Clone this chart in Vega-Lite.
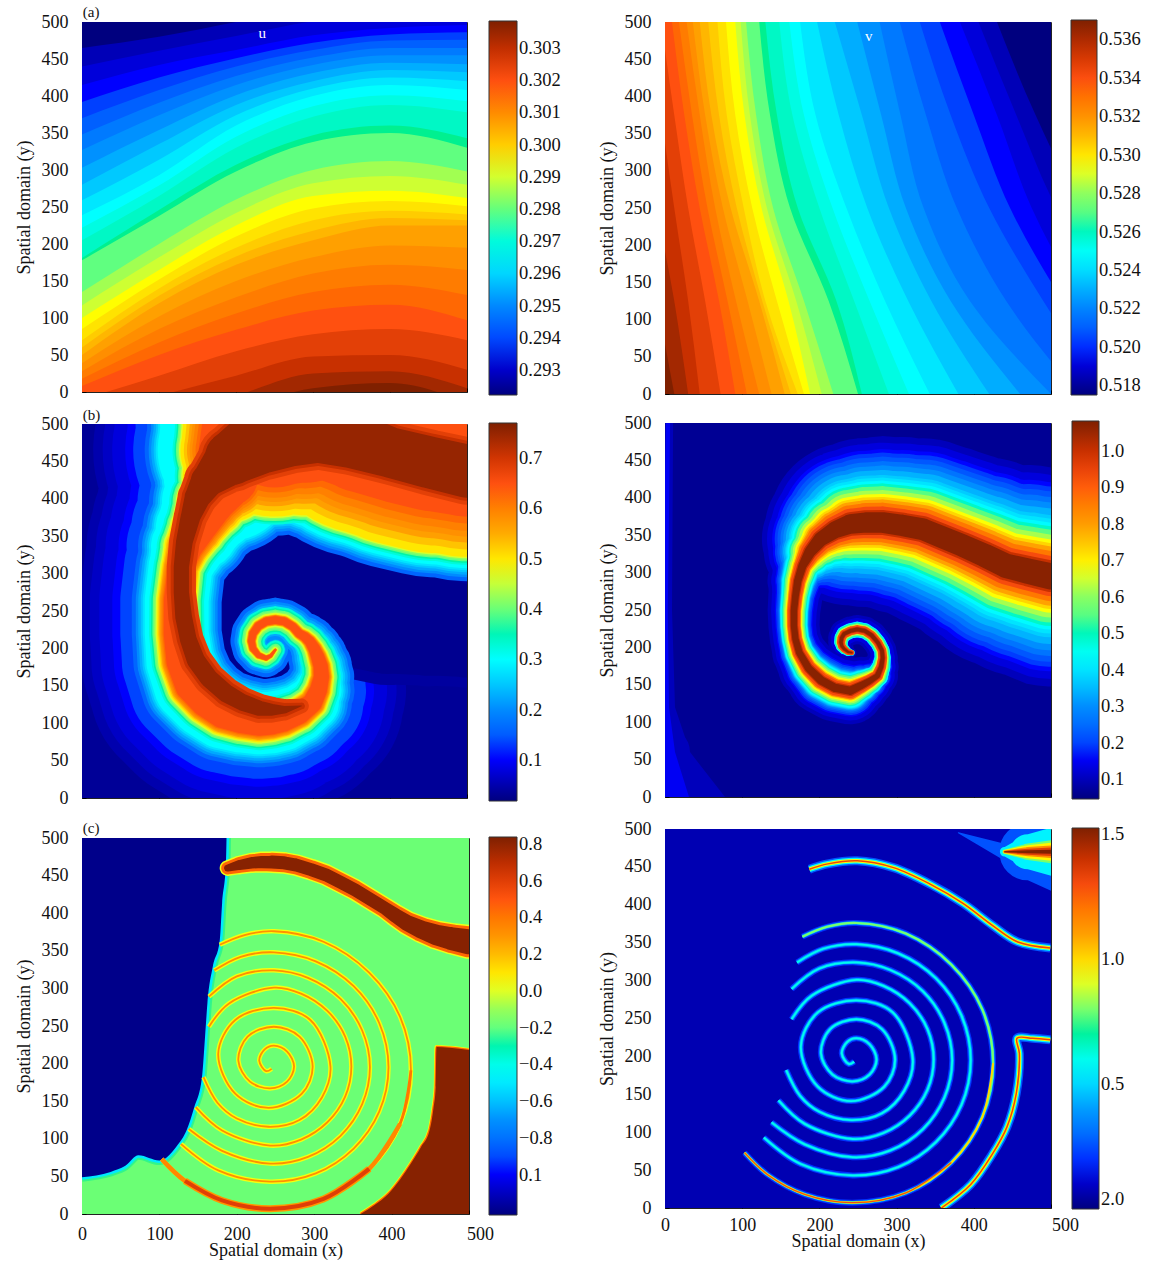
{"$schema":"https://vega.github.io/schema/vega-lite/v6.json","padding":{"left":14,"top":4,"right":0,"bottom":0},"background":"white",
"config":{"font":"Liberation Serif","view":{"stroke":"#222"},"axis":{"grid":false,"domain":false,"tickSize":-4,"tickColor":"#000","labelFontSize":18,"titleFontSize":18,"titleFontWeight":"normal","labelColor":"#111","titleColor":"#111","labelPadding":18,"zindex":1},"legend":{"labelFontSize":18.5,"labelColor":"#111","labelOffset":6,"gradientThickness":28,"gradientStrokeColor":"#333","gradientStrokeWidth":1,"labelOverlap":false,"orient":"none"}},
"datasets":{
"al":[{"v":0.2928,"x":0,"y":465},{"v":0.2928,"x":100,"y":480},{"v":0.2928,"x":200,"y":500},{"v":0.2928,"x":300,"y":520},{"v":0.2928,"x":400,"y":530},{"v":0.2928,"x":500,"y":530},
{"v":0.29315,"x":0,"y":440},{"v":0.29315,"x":100,"y":461},{"v":0.29315,"x":200,"y":481},{"v":0.29315,"x":300,"y":501},{"v":0.29315,"x":400,"y":511},{"v":0.29315,"x":500,"y":513},
{"v":0.2935,"x":0,"y":415},{"v":0.2935,"x":100,"y":442},{"v":0.2935,"x":200,"y":462},{"v":0.2935,"x":300,"y":482},{"v":0.2935,"x":400,"y":492},{"v":0.2935,"x":500,"y":496},
{"v":0.2939,"x":0,"y":392},{"v":0.2939,"x":100,"y":425},{"v":0.2939,"x":200,"y":451},{"v":0.2939,"x":300,"y":472},{"v":0.2939,"x":400,"y":483},{"v":0.2939,"x":500,"y":486},
{"v":0.29431,"x":0,"y":370},{"v":0.29431,"x":100,"y":408},{"v":0.29431,"x":200,"y":440},{"v":0.29431,"x":300,"y":462},{"v":0.29431,"x":400,"y":475},{"v":0.29431,"x":500,"y":476},
{"v":0.29472,"x":0,"y":348},{"v":0.29472,"x":100,"y":391},{"v":0.29472,"x":200,"y":427},{"v":0.29472,"x":300,"y":452},{"v":0.29472,"x":400,"y":465},{"v":0.29472,"x":500,"y":465},
{"v":0.29513,"x":0,"y":327},{"v":0.29513,"x":100,"y":374},{"v":0.29513,"x":200,"y":415},{"v":0.29513,"x":300,"y":442},{"v":0.29513,"x":400,"y":455},{"v":0.29513,"x":500,"y":455},
{"v":0.29547,"x":0,"y":303},{"v":0.29547,"x":100,"y":354},{"v":0.29547,"x":200,"y":401},{"v":0.29547,"x":300,"y":431},{"v":0.29547,"x":400,"y":445},{"v":0.29547,"x":500,"y":443},
{"v":0.29582,"x":0,"y":280},{"v":0.29582,"x":100,"y":335},{"v":0.29582,"x":200,"y":388},{"v":0.29582,"x":300,"y":420},{"v":0.29582,"x":400,"y":435},{"v":0.29582,"x":500,"y":432},
{"v":0.29623,"x":0,"y":259},{"v":0.29623,"x":100,"y":314},{"v":0.29623,"x":200,"y":374},{"v":0.29623,"x":300,"y":410},{"v":0.29623,"x":400,"y":425},{"v":0.29623,"x":500,"y":420},
{"v":0.29659,"x":0,"y":239},{"v":0.29659,"x":100,"y":293},{"v":0.29659,"x":200,"y":360},{"v":0.29659,"x":300,"y":400},{"v":0.29659,"x":400,"y":415},{"v":0.29659,"x":500,"y":408},
{"v":0.29693,"x":0,"y":222},{"v":0.29693,"x":100,"y":279},{"v":0.29693,"x":200,"y":345},{"v":0.29693,"x":300,"y":386},{"v":0.29693,"x":400,"y":401},{"v":0.29693,"x":500,"y":393},
{"v":0.29722,"x":0,"y":205},{"v":0.29722,"x":100,"y":265},{"v":0.29722,"x":200,"y":330},{"v":0.29722,"x":300,"y":372},{"v":0.29722,"x":400,"y":388},{"v":0.29722,"x":500,"y":378},
{"v":0.29768,"x":0,"y":181},{"v":0.29768,"x":100,"y":246},{"v":0.29768,"x":200,"y":307},{"v":0.29768,"x":300,"y":347},{"v":0.29768,"x":400,"y":360},{"v":0.29768,"x":500,"y":343},
{"v":0.29791,"x":0,"y":178},{"v":0.29791,"x":100,"y":238},{"v":0.29791,"x":200,"y":298},{"v":0.29791,"x":300,"y":338},{"v":0.29791,"x":400,"y":350},{"v":0.29791,"x":500,"y":330},
{"v":0.29861,"x":0,"y":135},{"v":0.29861,"x":100,"y":200},{"v":0.29861,"x":200,"y":260},{"v":0.29861,"x":300,"y":300},{"v":0.29861,"x":400,"y":312},{"v":0.29861,"x":500,"y":298},
{"v":0.29896,"x":0,"y":117},{"v":0.29896,"x":100,"y":182},{"v":0.29896,"x":200,"y":242},{"v":0.29896,"x":300,"y":282},{"v":0.29896,"x":400,"y":292},{"v":0.29896,"x":500,"y":280},
{"v":0.29936,"x":0,"y":100},{"v":0.29936,"x":100,"y":165},{"v":0.29936,"x":200,"y":225},{"v":0.29936,"x":300,"y":265},{"v":0.29936,"x":400,"y":272},{"v":0.29936,"x":500,"y":262},
{"v":0.29971,"x":0,"y":85},{"v":0.29971,"x":100,"y":152},{"v":0.29971,"x":200,"y":210},{"v":0.29971,"x":300,"y":248},{"v":0.29971,"x":400,"y":258},{"v":0.29971,"x":500,"y":251},
{"v":0.30001,"x":0,"y":70},{"v":0.30001,"x":100,"y":140},{"v":0.30001,"x":200,"y":195},{"v":0.30001,"x":300,"y":232},{"v":0.30001,"x":400,"y":245},{"v":0.30001,"x":500,"y":240},
{"v":0.3003,"x":0,"y":60},{"v":0.3003,"x":100,"y":130},{"v":0.3003,"x":200,"y":183},{"v":0.3003,"x":300,"y":218},{"v":0.3003,"x":400,"y":235},{"v":0.3003,"x":500,"y":232},
{"v":0.30059,"x":0,"y":50},{"v":0.30059,"x":100,"y":120},{"v":0.30059,"x":200,"y":172},{"v":0.30059,"x":300,"y":205},{"v":0.30059,"x":400,"y":225},{"v":0.30059,"x":500,"y":225},
{"v":0.30094,"x":0,"y":39},{"v":0.30094,"x":100,"y":102},{"v":0.30094,"x":200,"y":150},{"v":0.30094,"x":300,"y":182},{"v":0.30094,"x":400,"y":198},{"v":0.30094,"x":500,"y":195},
{"v":0.30128,"x":0,"y":28},{"v":0.30128,"x":100,"y":85},{"v":0.30128,"x":200,"y":128},{"v":0.30128,"x":300,"y":160},{"v":0.30128,"x":400,"y":172},{"v":0.30128,"x":500,"y":165},
{"v":0.30163,"x":0,"y":18},{"v":0.30163,"x":100,"y":67},{"v":0.30163,"x":200,"y":106},{"v":0.30163,"x":300,"y":135},{"v":0.30163,"x":400,"y":145},{"v":0.30163,"x":500,"y":131},
{"v":0.30198,"x":0,"y":8},{"v":0.30198,"x":100,"y":50},{"v":0.30198,"x":200,"y":84},{"v":0.30198,"x":300,"y":110},{"v":0.30198,"x":400,"y":118},{"v":0.30198,"x":500,"y":97},
{"v":0.30245,"x":0,"y":-10},{"v":0.30245,"x":100,"y":22},{"v":0.30245,"x":200,"y":55},{"v":0.30245,"x":300,"y":78},{"v":0.30245,"x":400,"y":85},{"v":0.30245,"x":500,"y":70},
{"v":0.30291,"x":0,"y":-30},{"v":0.30291,"x":100,"y":-5},{"v":0.30291,"x":200,"y":22},{"v":0.30291,"x":300,"y":48},{"v":0.30291,"x":400,"y":50},{"v":0.30291,"x":500,"y":30},
{"v":0.30338,"x":0,"y":-60},{"v":0.30338,"x":100,"y":-35},{"v":0.30338,"x":200,"y":-5},{"v":0.30338,"x":300,"y":25},{"v":0.30338,"x":400,"y":28},{"v":0.30338,"x":500,"y":5},
{"v":0.30384,"x":0,"y":-80},{"v":0.30384,"x":100,"y":-60},{"v":0.30384,"x":200,"y":-25},{"v":0.30384,"x":300,"y":5},{"v":0.30384,"x":400,"y":12},{"v":0.30384,"x":500,"y":-15}],
"ar":[{"v":0.51848,"y":500,"x":430},{"v":0.51848,"y":375,"x":480},{"v":0.51848,"y":250,"x":540},{"v":0.51848,"y":125,"x":620},{"v":0.51848,"y":0,"x":700},
{"v":0.51906,"y":500,"x":406},{"v":0.51906,"y":375,"x":455},{"v":0.51906,"y":250,"x":507},{"v":0.51906,"y":125,"x":580},{"v":0.51906,"y":0,"x":660},
{"v":0.51965,"y":500,"x":382},{"v":0.51965,"y":375,"x":430},{"v":0.51965,"y":250,"x":475},{"v":0.51965,"y":125,"x":540},{"v":0.51965,"y":0,"x":620},
{"v":0.52033,"y":500,"x":356},{"v":0.52033,"y":375,"x":400},{"v":0.52033,"y":250,"x":447},{"v":0.52033,"y":125,"x":515},{"v":0.52033,"y":0,"x":595},
{"v":0.52101,"y":500,"x":330},{"v":0.52101,"y":375,"x":370},{"v":0.52101,"y":250,"x":420},{"v":0.52101,"y":125,"x":490},{"v":0.52101,"y":0,"x":570},
{"v":0.52169,"y":500,"x":304},{"v":0.52169,"y":375,"x":338},{"v":0.52169,"y":250,"x":378},{"v":0.52169,"y":125,"x":442},{"v":0.52169,"y":0,"x":535},
{"v":0.52238,"y":500,"x":278},{"v":0.52238,"y":375,"x":305},{"v":0.52238,"y":250,"x":335},{"v":0.52238,"y":125,"x":395},{"v":0.52238,"y":0,"x":500},
{"v":0.52296,"y":500,"x":249},{"v":0.52296,"y":375,"x":280},{"v":0.52296,"y":250,"x":312},{"v":0.52296,"y":125,"x":370},{"v":0.52296,"y":0,"x":460},
{"v":0.52355,"y":500,"x":220},{"v":0.52355,"y":375,"x":255},{"v":0.52355,"y":250,"x":290},{"v":0.52355,"y":125,"x":345},{"v":0.52355,"y":0,"x":420},
{"v":0.52423,"y":500,"x":197},{"v":0.52423,"y":375,"x":225},{"v":0.52423,"y":250,"x":262},{"v":0.52423,"y":125,"x":315},{"v":0.52423,"y":0,"x":380},
{"v":0.52483,"y":500,"x":175},{"v":0.52483,"y":375,"x":195},{"v":0.52483,"y":250,"x":235},{"v":0.52483,"y":125,"x":285},{"v":0.52483,"y":0,"x":343},
{"v":0.5254,"y":500,"x":161},{"v":0.5254,"y":375,"x":180},{"v":0.5254,"y":250,"x":217},{"v":0.5254,"y":125,"x":265},{"v":0.5254,"y":0,"x":316},
{"v":0.52589,"y":500,"x":148},{"v":0.52589,"y":375,"x":165},{"v":0.52589,"y":250,"x":200},{"v":0.52589,"y":125,"x":245},{"v":0.52589,"y":0,"x":290},
{"v":0.52667,"y":500,"x":130},{"v":0.52667,"y":375,"x":145},{"v":0.52667,"y":250,"x":172},{"v":0.52667,"y":125,"x":222},{"v":0.52667,"y":0,"x":255},
{"v":0.52706,"y":500,"x":122},{"v":0.52706,"y":375,"x":136},{"v":0.52706,"y":250,"x":162},{"v":0.52706,"y":125,"x":212},{"v":0.52706,"y":0,"x":250},
{"v":0.52823,"y":500,"x":105},{"v":0.52823,"y":375,"x":118},{"v":0.52823,"y":250,"x":140},{"v":0.52823,"y":125,"x":180},{"v":0.52823,"y":0,"x":218},
{"v":0.52881,"y":500,"x":98},{"v":0.52881,"y":375,"x":110},{"v":0.52881,"y":250,"x":132},{"v":0.52881,"y":125,"x":170},{"v":0.52881,"y":0,"x":203},
{"v":0.52947,"y":500,"x":91},{"v":0.52947,"y":375,"x":103},{"v":0.52947,"y":250,"x":125},{"v":0.52947,"y":125,"x":160},{"v":0.52947,"y":0,"x":188},
{"v":0.53008,"y":500,"x":79},{"v":0.53008,"y":375,"x":91},{"v":0.53008,"y":250,"x":113},{"v":0.53008,"y":125,"x":145},{"v":0.53008,"y":0,"x":180},
{"v":0.53057,"y":500,"x":68},{"v":0.53057,"y":375,"x":80},{"v":0.53057,"y":250,"x":102},{"v":0.53057,"y":125,"x":130},{"v":0.53057,"y":0,"x":172},
{"v":0.53105,"y":500,"x":56},{"v":0.53105,"y":375,"x":70},{"v":0.53105,"y":250,"x":93},{"v":0.53105,"y":125,"x":126},{"v":0.53105,"y":0,"x":163},
{"v":0.53154,"y":500,"x":45},{"v":0.53154,"y":375,"x":60},{"v":0.53154,"y":250,"x":85},{"v":0.53154,"y":125,"x":122},{"v":0.53154,"y":0,"x":155},
{"v":0.53213,"y":500,"x":36},{"v":0.53213,"y":375,"x":52},{"v":0.53213,"y":250,"x":75},{"v":0.53213,"y":125,"x":107},{"v":0.53213,"y":0,"x":138},
{"v":0.53271,"y":500,"x":28},{"v":0.53271,"y":375,"x":45},{"v":0.53271,"y":250,"x":65},{"v":0.53271,"y":125,"x":92},{"v":0.53271,"y":0,"x":122},
{"v":0.5333,"y":500,"x":18},{"v":0.5333,"y":375,"x":35},{"v":0.5333,"y":250,"x":55},{"v":0.5333,"y":125,"x":81},{"v":0.5333,"y":0,"x":106},
{"v":0.53388,"y":500,"x":9},{"v":0.53388,"y":375,"x":25},{"v":0.53388,"y":250,"x":45},{"v":0.53388,"y":125,"x":70},{"v":0.53388,"y":0,"x":91},
{"v":0.53466,"y":500,"x":-5},{"v":0.53466,"y":375,"x":12},{"v":0.53466,"y":250,"x":30},{"v":0.53466,"y":125,"x":52},{"v":0.53466,"y":0,"x":72},
{"v":0.53544,"y":500,"x":-20},{"v":0.53544,"y":375,"x":-5},{"v":0.53544,"y":250,"x":12},{"v":0.53544,"y":125,"x":30},{"v":0.53544,"y":0,"x":45},
{"v":0.53622,"y":500,"x":-40},{"v":0.53622,"y":375,"x":-25},{"v":0.53622,"y":250,"x":-10},{"v":0.53622,"y":125,"x":12},{"v":0.53622,"y":0,"x":30},
{"v":0.537,"y":500,"x":-60},{"v":0.537,"y":375,"x":-45},{"v":0.537,"y":250,"x":-30},{"v":0.537,"y":125,"x":-10},{"v":0.537,"y":0,"x":12}],
"blm":[{"t":1,"x":251,"y":198,"w":10,"k":4},{"t":2,"x":245,"y":190,"w":14,"k":6},{"t":3,"x":239,"y":187,"w":16,"k":8},{"t":4,"x":229,"y":191,"w":18,"k":10},{"t":5,"x":222,"y":200,"w":20,"k":12},{"t":6,"x":220,"y":210,"w":21,"k":13},{"t":7,"x":222,"y":220,"w":22,"k":14},{"t":8,"x":229,"y":230,"w":23,"k":15},{"t":9,"x":239,"y":236,"w":24,"k":15},{"t":10,"x":251,"y":238,"w":24,"k":15},{"t":11,"x":263,"y":236,"w":24,"k":15},{"t":12,"x":274,"y":229,"w":25,"k":15},{"t":13,"x":282,"y":220,"w":26,"k":16},{"t":14,"x":290,"y":215,"w":30,"k":18},{"t":15,"x":296,"y":209,"w":34,"k":20},{"t":16,"x":302,"y":199,"w":39,"k":23},{"t":17,"x":306,"y":189,"w":44,"k":26},{"t":18,"x":310,"y":176,"w":48,"k":28},{"t":19,"x":311,"y":162,"w":52,"k":30},{"t":20,"x":307,"y":144,"w":61,"k":34},{"t":21,"x":299,"y":127,"w":70,"k":38},{"t":22,"x":282,"y":113,"w":75,"k":42},{"t":23,"x":261,"y":104,"w":80,"k":46},{"t":24,"x":246,"y":101,"w":81,"k":48},{"t":25,"x":230,"y":100,"w":82,"k":50},{"t":26,"x":206,"y":104,"w":85,"k":51},{"t":27,"x":182,"y":111,"w":88,"k":52},{"t":28,"x":159,"y":127,"w":90,"k":53},{"t":29,"x":139,"y":149,"w":92,"k":54},{"t":30,"x":127,"y":182,"w":88,"k":53},{"t":31,"x":123,"y":220,"w":84,"k":52},{"t":32,"x":123,"y":265,"w":84,"k":51},{"t":33,"x":128,"y":309,"w":84,"k":50},{"t":34,"x":137,"y":336,"w":96,"k":60},{"t":35,"x":150,"y":360,"w":110,"k":70},{"t":36,"x":168,"y":395,"w":130,"k":90},{"t":37,"x":190,"y":430,"w":170,"k":120},{"t":38,"x":197,"y":465,"w":200,"k":140},{"t":39,"x":205,"y":500,"w":210,"k":150},{"t":40,"x":227,"y":495,"w":225,"k":175},{"t":41,"x":250,"y":490,"w":240,"k":224},{"t":42,"x":290,"y":505,"w":270,"k":250},{"t":43,"x":330,"y":520,"w":320,"k":290},{"t":44,"x":375,"y":510,"w":340,"k":310},{"t":45,"x":420,"y":500,"w":350,"k":320},{"t":46,"x":460,"y":490,"w":350,"k":320},{"t":47,"x":500,"y":480,"w":340,"k":310}],
"blc":[{"t":1,"x":285,"y":123,"w":1},{"t":2,"x":263,"y":118,"w":10},{"t":3,"x":246,"y":118,"w":16},{"t":4,"x":230,"y":120,"w":20},{"t":5,"x":208,"y":128,"w":22},{"t":6,"x":187,"y":140,"w":24},{"t":7,"x":165,"y":160,"w":24},{"t":8,"x":148,"y":184,"w":24},{"t":9,"x":138,"y":212,"w":22},{"t":10,"x":132,"y":242,"w":22},{"t":11,"x":129,"y":275,"w":20},{"t":12,"x":129,"y":309,"w":20},{"t":13,"x":133,"y":343,"w":22},{"t":14,"x":141,"y":376,"w":26},{"t":15,"x":150,"y":402,"w":34},{"t":16,"x":163,"y":424,"w":44},{"t":17,"x":195,"y":455,"w":72},{"t":18,"x":235,"y":480,"w":90},{"t":19,"x":270,"y":488,"w":88},{"t":20,"x":306,"y":492,"w":86},{"t":21,"x":353,"y":478,"w":74},{"t":22,"x":400,"y":462,"w":66},{"t":23,"x":450,"y":449,"w":68},{"t":24,"x":500,"y":437,"w":70}],
"blg":[{"t":1,"x":246,"y":209,"w":12},{"t":2,"x":258,"y":208,"w":12},{"t":3,"x":267,"y":197,"w":12},{"t":4,"x":268,"y":182,"w":14},{"t":5,"x":258,"y":168,"w":16},{"t":6,"x":243,"y":160,"w":20},{"t":7,"x":226,"y":161,"w":22},{"t":8,"x":208,"y":170,"w":24},{"t":9,"x":196,"y":185,"w":24},{"t":10,"x":189,"y":203,"w":26},{"t":11,"x":187,"y":222,"w":30},{"t":12,"x":191,"y":243,"w":36},{"t":13,"x":201,"y":264,"w":44},{"t":14,"x":218,"y":288,"w":70},{"t":15,"x":239,"y":309,"w":90},{"t":16,"x":280,"y":290,"w":130},{"t":17,"x":325,"y":264,"w":150},{"t":18,"x":360,"y":250,"w":150},{"t":19,"x":397,"y":242,"w":150},{"t":20,"x":450,"y":232,"w":135},{"t":21,"x":500,"y":222,"w":120}],
"brm":[{"t":1,"x":242,"y":193,"w":8},{"t":2,"x":237,"y":194,"w":11},{"t":3,"x":232,"y":198,"w":14},{"t":4,"x":229,"y":202,"w":16},{"t":5,"x":228,"y":207,"w":18},{"t":6,"x":229,"y":213,"w":19},{"t":7,"x":232,"y":218,"w":20},{"t":8,"x":240,"y":222,"w":20},{"t":9,"x":249,"y":224,"w":20},{"t":10,"x":259,"y":222,"w":20},{"t":11,"x":268,"y":216,"w":20},{"t":12,"x":276,"y":206,"w":20},{"t":13,"x":281,"y":196,"w":20},{"t":14,"x":282,"y":186,"w":21},{"t":15,"x":280,"y":174,"w":24},{"t":16,"x":275,"y":162,"w":28},{"t":17,"x":265,"y":155,"w":33},{"t":18,"x":254,"y":149,"w":38},{"t":19,"x":240,"y":142,"w":44},{"t":20,"x":220,"y":146,"w":44},{"t":21,"x":202,"y":156,"w":44},{"t":22,"x":186,"y":172,"w":40},{"t":23,"x":174,"y":193,"w":36},{"t":24,"x":169,"y":211,"w":34},{"t":25,"x":167,"y":229,"w":34},{"t":26,"x":167,"y":249,"w":35},{"t":27,"x":169,"y":269,"w":36},{"t":28,"x":172,"y":289,"w":40},{"t":29,"x":178,"y":309,"w":44},{"t":30,"x":188,"y":328,"w":60},{"t":31,"x":202,"y":345,"w":76},{"t":32,"x":220,"y":357,"w":90},{"t":33,"x":240,"y":365,"w":104},{"t":34,"x":260,"y":367,"w":108},{"t":35,"x":282,"y":367,"w":110},{"t":36,"x":308,"y":363,"w":113},{"t":37,"x":334,"y":358,"w":116},{"t":38,"x":360,"y":347,"w":118},{"t":39,"x":386,"y":336,"w":120},{"t":40,"x":414,"y":323,"w":125},{"t":41,"x":442,"y":309,"w":130},{"t":42,"x":470,"y":302,"w":135},{"t":43,"x":500,"y":295,"w":140}],
"brc":[{"t":1,"x":0,"y":0,"w":120},{"t":2,"x":0,"y":60,"w":50},{"t":3,"x":0,"y":120,"w":20},{"t":4,"x":0,"y":250,"w":14},{"t":5,"x":4,"y":500,"w":10}],
"cb":[{"x":0,"y":49},{"x":37,"y":56},{"x":56,"y":64},{"x":73,"y":78},{"x":100,"y":71},{"x":123,"y":91},{"x":135,"y":111},{"x":145,"y":142},{"x":155,"y":182},{"x":159,"y":236},{"x":162,"y":280},{"x":169,"y":329},{"x":178,"y":364},{"x":181,"y":413},{"x":186,"y":467},{"x":187,"y":520}],
"cr":[{"x":360,"y":0},{"x":378,"y":12},{"x":396,"y":27},{"x":411,"y":46},{"x":425,"y":67},{"x":438,"y":89},{"x":449,"y":111},{"x":454,"y":140},{"x":457,"y":169},{"x":458,"y":222},{"x":475,"y":221},{"x":500,"y":218}],
"cs":[{"t":1,"x":188,"y":460,"w":14},{"t":2,"x":203,"y":464,"w":18},{"t":3,"x":219,"y":467,"w":20},{"t":4,"x":232,"y":468,"w":21},{"t":5,"x":245,"y":468,"w":22},{"t":6,"x":261,"y":467,"w":22},{"t":7,"x":277,"y":464,"w":22},{"t":8,"x":296,"y":458,"w":22},{"t":9,"x":315,"y":451,"w":22},{"t":10,"x":334,"y":441,"w":22},{"t":11,"x":353,"y":431,"w":22},{"t":12,"x":372,"y":419,"w":22},{"t":13,"x":391,"y":407,"w":22},{"t":14,"x":405,"y":397,"w":24},{"t":15,"x":420,"y":387,"w":26},{"t":16,"x":439,"y":378,"w":29},{"t":17,"x":458,"y":371,"w":32},{"t":18,"x":478,"y":366,"w":35},{"t":19,"x":499,"y":362,"w":38}],
"arms":[{"s":"A","t":1,"x":245,"y":193},{"s":"A","t":2,"x":238,"y":190},{"s":"A","t":3,"x":229,"y":204},{"s":"A","t":4,"x":236,"y":219},{"s":"A","t":5,"x":248,"y":224},{"s":"A","t":6,"x":265,"y":216},{"s":"A","t":7,"x":274,"y":196},{"s":"A","t":8,"x":265,"y":176},{"s":"A","t":9,"x":243,"y":167},{"s":"A","t":10,"x":217,"y":176},{"s":"A","t":11,"x":202,"y":204},{"s":"A","t":12,"x":214,"y":236},{"s":"A","t":13,"x":248,"y":249},{"s":"A","t":14,"x":281,"y":236},{"s":"A","t":15,"x":298,"y":196},{"s":"A","t":16,"x":284,"y":160},{"s":"A","t":17,"x":241,"y":141},{"s":"A","t":18,"x":198,"y":160},{"s":"A","t":19,"x":176,"y":213},{"s":"A","t":20,"x":198,"y":258},{"s":"A","t":21,"x":248,"y":274},{"s":"A","t":22,"x":295,"y":258},{"s":"A","t":23,"x":321,"y":196},{"s":"A","t":24,"x":310,"y":155},{"s":"A","t":25,"x":281,"y":125},{"s":"A","t":26,"x":241,"y":116},{"s":"A","t":27,"x":200,"y":127},{"s":"A","t":28,"x":175,"y":148},{"s":"A","t":29,"x":157,"y":182},
{"s":"B","t":1,"x":164,"y":249},{"s":"B","t":2,"x":190,"y":280},{"s":"B","t":3,"x":248,"y":301},{"s":"B","t":4,"x":283,"y":293},{"s":"B","t":5,"x":317,"y":270},{"s":"B","t":6,"x":340,"y":236},{"s":"B","t":7,"x":348,"y":196},{"s":"B","t":8,"x":340,"y":156},{"s":"B","t":9,"x":317,"y":122},{"s":"B","t":10,"x":283,"y":99},{"s":"B","t":11,"x":243,"y":91},{"s":"B","t":12,"x":181,"y":111},{"s":"B","t":13,"x":147,"y":142},
{"s":"C","t":1,"x":164,"y":289},{"s":"C","t":2,"x":200,"y":316},{"s":"C","t":3,"x":248,"y":324},{"s":"C","t":4,"x":292,"y":314},{"s":"C","t":5,"x":334,"y":286},{"s":"C","t":6,"x":362,"y":244},{"s":"C","t":7,"x":372,"y":195},{"s":"C","t":8,"x":362,"y":146},{"s":"C","t":9,"x":334,"y":104},{"s":"C","t":10,"x":292,"y":76},{"s":"C","t":11,"x":243,"y":67},{"s":"C","t":12,"x":181,"y":84},{"s":"C","t":13,"x":138,"y":113},
{"s":"D","t":1,"x":171,"y":324},{"s":"D","t":2,"x":205,"y":342},{"s":"D","t":3,"x":248,"y":348},{"s":"D","t":4,"x":302,"y":336},{"s":"D","t":5,"x":351,"y":303},{"s":"D","t":6,"x":384,"y":254},{"s":"D","t":7,"x":396,"y":195},{"s":"D","t":8,"x":384,"y":136},{"s":"D","t":9,"x":351,"y":87},{"s":"D","t":10,"x":302,"y":54},{"s":"D","t":11,"x":243,"y":43},{"s":"D","t":12,"x":176,"y":58},{"s":"D","t":13,"x":128,"y":93},
{"s":"E","t":1,"x":178,"y":358},{"s":"E","t":2,"x":210,"y":371},{"s":"E","t":3,"x":248,"y":376},{"s":"E","t":4,"x":312,"y":362},{"s":"E","t":5,"x":371,"y":321},{"s":"E","t":6,"x":411,"y":262},{"s":"E","t":7,"x":425,"y":191},{"s":"E","t":8,"x":411,"y":120},{"s":"E","t":9,"x":371,"y":60},{"s":"E","t":10,"x":312,"y":20},{"s":"E","t":11,"x":243,"y":7},{"s":"E","t":12,"x":181,"y":18},{"s":"E","t":13,"x":133,"y":44},{"s":"E","t":14,"x":103,"y":73}],
"crs":[{"s":"S","t":1,"x":187,"y":447},{"s":"S","t":2,"x":211,"y":454},{"s":"S","t":3,"x":249,"y":458},{"s":"S","t":4,"x":296,"y":449},{"s":"S","t":5,"x":344,"y":427},{"s":"S","t":6,"x":386,"y":402},{"s":"S","t":7,"x":424,"y":373},{"s":"S","t":8,"x":457,"y":351},{"s":"S","t":9,"x":499,"y":343},
{"s":"R","t":1,"x":358,"y":0},{"s":"R","t":2,"x":396,"y":31},{"s":"R","t":3,"x":424,"y":71},{"s":"R","t":4,"x":443,"y":107},{"s":"R","t":5,"x":455,"y":151},{"s":"R","t":6,"x":459,"y":204},{"s":"R","t":7,"x":456,"y":224},{"s":"R","t":8,"x":476,"y":224},{"s":"R","t":9,"x":499,"y":222}],
"blob":[{"t":1,"x":380,"y":495,"w":0},{"t":2,"x":440,"y":470,"w":6},{"t":3,"x":470,"y":470,"w":22},{"t":4,"x":500,"y":470,"w":30}]
},
"spacing":35,
"resolve":{"scale":{"color":"independent","size":"independent"},"legend":{"color":"independent"}},
"hconcat":[
{"spacing":12,"resolve":{"scale":{"color":"independent","size":"independent"},"legend":{"color":"independent"}},"vconcat":[
{"bounds":"flush","spacing":32,"resolve":{"scale":{"color":"independent","size":"independent"},"legend":{"color":"independent"}},"vconcat":[
{"width":385,"height":370,"encoding":{"x":{"field":"x","type":"quantitative","scale":{"domain":[0,500],"nice":false},"axis":{"labels":false,"title":null,"values":[0,100,200,300,400,500]}},"y":{"field":"y","type":"quantitative","scale":{"domain":[0,500],"nice":false},"axis":{"title":"Spatial domain (y)","values":[0,50,100,150,200,250,300,350,400,450,500],"titlePadding":8}}},
"layer":[
{"data":{"values":[{"x":0,"x2":500,"y":0,"y2":500,"v":0.29222}]},"mark":"rect","encoding":{"x2":{"field":"x2"},"y2":{"field":"y2"},"color":{"field":"v","type":"quantitative","scale":{"clamp":true,"domain":[0.29222,0.2935,0.29512,0.29659,0.29768,0.29791,0.29826,0.29935,0.30059,0.30198,0.30291,0.30384],"range":["#00007f","#0000ff","#0090ff","#00ffff","#00f090","#60ff80","#70ff70","#ffff00","#ffa000","#ff5010","#c83000","#7f2000"]},"legend":{"type":"gradient","title":null,"legendX":407,"legendY":-1,"gradientLength":374,"values":[0.293,0.294,0.295,0.296,0.297,0.298,0.299,0.3,0.301,0.302,0.303],"format":".3f"}}}},
{"data":{"name":"al"},"mark":{"type":"area","interpolate":"monotone","clip":true},"encoding":{"y2":{"datum":0},"detail":{"field":"v"},"color":{"field":"v","type":"quantitative"}}},
{"data":{"values":[{"x":234,"y":485,"s":"u"}]},"mark":{"type":"text","color":"#fff","fontSize":15},"encoding":{"text":{"field":"s"}}},
{"data":{"values":[{"x":1,"y":514,"s":"(a)"}]},"mark":{"type":"text","color":"#111","fontSize":15,"align":"left"},"encoding":{"text":{"field":"s"}}}
]},
{"width":385,"height":374,"encoding":{"x":{"field":"x","type":"quantitative","scale":{"domain":[0,500],"nice":false},"axis":{"labels":false,"title":null,"values":[0,100,200,300,400,500]}},"y":{"field":"y","type":"quantitative","scale":{"domain":[0,500],"nice":false},"axis":{"title":"Spatial domain (y)","values":[0,50,100,150,200,250,300,350,400,450,500],"titlePadding":8}},"order":{"field":"t"}},
"resolve":{"scale":{"size":"independent"},"legend":{"color":"independent"}},
"layer":[
{"data":{"values":[{"x":0,"x2":500,"y":0,"y2":500,"v":0.035}]},"mark":"rect","encoding":{"order":null,"x2":{"field":"x2"},"y2":{"field":"y2"},"color":{"field":"v","type":"quantitative","scale":{"clamp":true,"domain":[0.0185,0.1011,0.2063,0.3009,0.3715,0.3865,0.4091,0.4797,0.5593,0.6494,0.7095,0.7696],"range":["#00007f","#0000ff","#0090ff","#00ffff","#00f090","#60ff80","#70ff70","#ffff00","#ffa000","#ff5010","#c83000","#7f2000"]},"legend":{"type":"gradient","title":null,"legendX":407,"legendY":-1,"gradientLength":378,"values":[0.1,0.2,0.3,0.4,0.5,0.6,0.7],"format":".1f"}}}},
{"data":{"name":"blm"},"mark":{"type":"trail","clip":true},"encoding":{"color":{"datum":0.05,"type":"quantitative","legend":null},"size":{"field":"w","type":"quantitative","scale":{"domain":[0,400],"range":[129,433]},"legend":null}}},
{"data":{"name":"blm"},"mark":{"type":"trail","clip":true},"encoding":{"color":{"datum":0.065,"type":"quantitative","legend":null},"size":{"field":"w","type":"quantitative","scale":{"domain":[0,400],"range":[110,414]},"legend":null}}},
{"data":{"name":"blm"},"mark":{"type":"trail","clip":true},"encoding":{"color":{"datum":0.08,"type":"quantitative","legend":null},"size":{"field":"w","type":"quantitative","scale":{"domain":[0,400],"range":[91,395]},"legend":null}}},
{"data":{"name":"blm"},"mark":{"type":"trail","clip":true},"encoding":{"color":{"datum":0.1,"type":"quantitative","legend":null},"size":{"field":"w","type":"quantitative","scale":{"domain":[0,400],"range":[65,369]},"legend":null}}},
{"data":{"name":"blm"},"mark":{"type":"trail","clip":true},"encoding":{"color":{"datum":0.13,"type":"quantitative","legend":null},"size":{"field":"w","type":"quantitative","scale":{"domain":[0,400],"range":[49,353]},"legend":null}}},
{"data":{"name":"blg"},"mark":{"type":"trail","clip":true},"encoding":{"color":{"datum":0.04,"type":"quantitative","legend":null},"size":{"field":"w","type":"quantitative","scale":{"domain":[0,400],"range":[14,340]},"legend":null}}},
{"data":{"name":"blg"},"mark":{"type":"trail","clip":true},"encoding":{"color":{"datum":0.03,"type":"quantitative","legend":null},"size":{"field":"w","type":"quantitative","scale":{"domain":[0,400],"range":[0,304]},"legend":null}}},
{"data":{"name":"blm"},"mark":{"type":"trail","clip":true},"encoding":{"color":{"datum":0.16,"type":"quantitative","legend":null},"size":{"field":"w","type":"quantitative","scale":{"domain":[0,400],"range":[26,330]},"legend":null}}},
{"data":{"name":"blm"},"mark":{"type":"trail","clip":true},"encoding":{"color":{"datum":0.2,"type":"quantitative","legend":null},"size":{"field":"w","type":"quantitative","scale":{"domain":[0,400],"range":[18,322]},"legend":null}}},
{"data":{"name":"blm"},"mark":{"type":"trail","clip":true},"encoding":{"color":{"datum":0.225,"type":"quantitative","legend":null},"size":{"field":"w","type":"quantitative","scale":{"domain":[0,400],"range":[13,317]},"legend":null}}},
{"data":{"name":"blm"},"mark":{"type":"trail","clip":true},"encoding":{"color":{"datum":0.25,"type":"quantitative","legend":null},"size":{"field":"w","type":"quantitative","scale":{"domain":[0,400],"range":[8,312]},"legend":null}}},
{"data":{"name":"blm"},"mark":{"type":"trail","clip":true},"encoding":{"color":{"datum":0.275,"type":"quantitative","legend":null},"size":{"field":"w","type":"quantitative","scale":{"domain":[0,400],"range":[4,308]},"legend":null}}},
{"data":{"name":"blm"},"mark":{"type":"trail","clip":true},"encoding":{"color":{"datum":0.3,"type":"quantitative","legend":null},"size":{"field":"w","type":"quantitative","scale":{"domain":[0,400],"range":[0,304]},"legend":null}}},
{"data":{"name":"blm"},"mark":{"type":"trail","clip":true},"encoding":{"color":{"datum":0.33,"type":"quantitative","legend":null},"size":{"field":"k","type":"quantitative","scale":{"domain":[0,400],"range":[16,320]},"legend":null}}},
{"data":{"name":"blm"},"mark":{"type":"trail","clip":true},"encoding":{"color":{"datum":0.36,"type":"quantitative","legend":null},"size":{"field":"k","type":"quantitative","scale":{"domain":[0,400],"range":[12,316]},"legend":null}}},
{"data":{"name":"blm"},"mark":{"type":"trail","clip":true},"encoding":{"color":{"datum":0.39,"type":"quantitative","legend":null},"size":{"field":"k","type":"quantitative","scale":{"domain":[0,400],"range":[9,313]},"legend":null}}},
{"data":{"name":"blm"},"mark":{"type":"trail","clip":true},"encoding":{"color":{"datum":0.42,"type":"quantitative","legend":null},"size":{"field":"k","type":"quantitative","scale":{"domain":[0,400],"range":[6,310]},"legend":null}}},
{"data":{"name":"blm"},"mark":{"type":"trail","clip":true},"encoding":{"color":{"datum":0.46,"type":"quantitative","legend":null},"size":{"field":"k","type":"quantitative","scale":{"domain":[0,400],"range":[3,307]},"legend":null}}},
{"data":{"name":"blm"},"mark":{"type":"trail","clip":true},"encoding":{"color":{"datum":0.5,"type":"quantitative","legend":null},"size":{"field":"k","type":"quantitative","scale":{"domain":[0,400],"range":[0,304]},"legend":null}}},
{"data":{"name":"blm"},"mark":{"type":"trail","clip":true},"encoding":{"color":{"datum":0.53,"type":"quantitative","legend":null},"size":{"field":"k","type":"quantitative","scale":{"domain":[0,400],"range":[0,285]},"legend":null}}},
{"data":{"name":"blm"},"mark":{"type":"trail","clip":true},"encoding":{"color":{"datum":0.56,"type":"quantitative","legend":null},"size":{"field":"k","type":"quantitative","scale":{"domain":[0,400],"range":[0,267]},"legend":null}}},
{"data":{"name":"blm"},"mark":{"type":"trail","clip":true},"encoding":{"color":{"datum":0.58,"type":"quantitative","legend":null},"size":{"field":"k","type":"quantitative","scale":{"domain":[0,400],"range":[0,252]},"legend":null}}},
{"data":{"name":"blm"},"mark":{"type":"trail","clip":true},"encoding":{"color":{"datum":0.6,"type":"quantitative","legend":null},"size":{"field":"k","type":"quantitative","scale":{"domain":[0,400],"range":[0,237]},"legend":null}}},
{"data":{"name":"blm"},"mark":{"type":"trail","clip":true},"encoding":{"color":{"datum":0.625,"type":"quantitative","legend":null},"size":{"field":"k","type":"quantitative","scale":{"domain":[0,400],"range":[0,218]},"legend":null}}},
{"data":{"name":"blm"},"mark":{"type":"trail","clip":true},"encoding":{"color":{"datum":0.65,"type":"quantitative","legend":null},"size":{"field":"k","type":"quantitative","scale":{"domain":[0,400],"range":[0,200]},"legend":null}}},
{"data":{"name":"blc"},"mark":{"type":"trail","clip":true},"encoding":{"color":{"datum":0.68,"type":"quantitative","legend":null},"size":{"field":"w","type":"quantitative","scale":{"domain":[0,400],"range":[14,318]},"legend":null}}},
{"data":{"name":"blc"},"mark":{"type":"trail","clip":true},"encoding":{"color":{"datum":0.71,"type":"quantitative","legend":null},"size":{"field":"w","type":"quantitative","scale":{"domain":[0,400],"range":[6,310]},"legend":null}}},
{"data":{"name":"blc"},"mark":{"type":"trail","clip":true},"encoding":{"color":{"datum":0.75,"type":"quantitative","legend":null},"size":{"field":"w","type":"quantitative","scale":{"domain":[0,400],"range":[0,304]},"legend":null}}},
{"data":{"values":[{"x":1,"y":512,"s":"(b)"}]},"mark":{"type":"text","color":"#111","fontSize":15,"align":"left"},"encoding":{"order":null,"text":{"field":"s"}}}
]}
]},
{"width":387,"height":376,"encoding":{"x":{"field":"x","type":"quantitative","scale":{"domain":[0,500],"nice":false},"axis":{"title":"Spatial domain (x)","titlePadding":-2,"labelPadding":15,"labelFlush":false,"values":[0,100,200,300,400,500],"labelOffset":{"condition":{"test":"datum.value==500","value":11},"value":0}}},"y":{"field":"y","type":"quantitative","scale":{"domain":[0,500],"nice":false},"axis":{"title":"Spatial domain (y)","values":[0,50,100,150,200,250,300,350,400,450,500],"titlePadding":8}},"order":{"field":"t"}},
"resolve":{"scale":{"size":"independent"},"legend":{"color":"independent"}},
"layer":[
{"data":{"values":[{"x":0,"x2":500,"y":0,"y2":500,"v":-0.17}]},"mark":"rect","encoding":{"order":null,"x2":{"field":"x2"},"y2":{"field":"y2"},"color":{"field":"v","type":"quantitative","scale":{"clamp":true,"domain":[-1.22,-0.994,-0.705,-0.446,-0.253,-0.212,-0.15,0.044,0.262,0.509,0.673,0.838],"range":["#00007f","#0000ff","#0090ff","#00ffff","#00f090","#60ff80","#70ff70","#ffff00","#ffa000","#ff5010","#c83000","#7f2000"]},"legend":{"type":"gradient","title":null,"legendX":407,"legendY":-1,"gradientLength":378,"values":[-1,-0.8,-0.6,-0.4,-0.2,0,0.2,0.4,0.6,0.8],"labelExpr":"datum.value==-1?'0.1':format(datum.value,'.1f')"}}}},
{"data":{"name":"cb"},"mark":{"type":"line","clip":true,"strokeWidth":9,"interpolate":"monotone"},"encoding":{"order":null,"color":{"datum":-0.24,"type":"quantitative","legend":null}}},
{"data":{"name":"cb"},"mark":{"type":"line","clip":true,"strokeWidth":5,"interpolate":"monotone"},"encoding":{"order":null,"color":{"datum":-0.5,"type":"quantitative","legend":null}}},
{"data":{"name":"cb"},"mark":{"type":"area","clip":true,"interpolate":"monotone"},"encoding":{"order":null,"y2":{"datum":520},"color":{"datum":-1.2,"type":"quantitative","legend":null}}},
{"data":{"name":"cr"},"mark":{"type":"line","clip":true,"strokeWidth":4,"interpolate":"monotone"},"encoding":{"order":null,"color":{"datum":0.05,"type":"quantitative","legend":null}}},
{"data":{"name":"cr"},"mark":{"type":"line","clip":true,"strokeWidth":2.5,"interpolate":"monotone"},"encoding":{"order":null,"color":{"datum":0.45,"type":"quantitative","legend":null}}},
{"data":{"name":"cr"},"mark":{"type":"area","clip":true,"interpolate":"monotone"},"encoding":{"order":null,"y2":{"datum":0},"color":{"datum":0.82,"type":"quantitative","legend":null}}},
{"data":{"name":"cs"},"mark":{"type":"trail","clip":true},"encoding":{"color":{"datum":0.02,"type":"quantitative","legend":null},"size":{"field":"w","type":"quantitative","scale":{"domain":[0,400],"range":[5,309]},"legend":null}}},
{"data":{"name":"cs"},"mark":{"type":"trail","clip":true},"encoding":{"color":{"datum":0.45,"type":"quantitative","legend":null},"size":{"field":"w","type":"quantitative","scale":{"domain":[0,400],"range":[2,306]},"legend":null}}},
{"data":{"name":"cs"},"mark":{"type":"trail","clip":true},"encoding":{"color":{"datum":0.82,"type":"quantitative","legend":null},"size":{"field":"w","type":"quantitative","scale":{"domain":[5,400],"range":[0,300],"clamp":true},"legend":null}}},
{"data":{"name":"arms"},"mark":{"type":"line","clip":true,"strokeWidth":4.5,"interpolate":"catmull-rom"},"encoding":{"detail":{"field":"s"},"color":{"datum":0.03,"type":"quantitative","legend":null}}},
{"data":{"name":"arms"},"mark":{"type":"line","clip":true,"strokeWidth":1.8,"interpolate":"catmull-rom"},"encoding":{"detail":{"field":"s"},"color":{"datum":0.32,"type":"quantitative","legend":null}}},
{"data":{"name":"arms"},"transform":[{"filter":"datum.s=='E'&&datum.y<200"}],"mark":{"type":"line","clip":true,"strokeWidth":2.8,"interpolate":"catmull-rom"},"encoding":{"color":{"datum":0.4,"type":"quantitative","legend":null}}},
{"data":{"name":"arms"},"transform":[{"filter":"datum.s=='E'&&datum.y<130"}],"mark":{"type":"line","clip":true,"strokeWidth":4.5,"interpolate":"catmull-rom"},"encoding":{"color":{"datum":0.35,"type":"quantitative","legend":null}}},
{"data":{"name":"arms"},"transform":[{"filter":"datum.s=='E'&&datum.y<65"}],"mark":{"type":"line","clip":true,"strokeWidth":7,"interpolate":"catmull-rom"},"encoding":{"color":{"datum":0.3,"type":"quantitative","legend":null}}},
{"data":{"name":"arms"},"transform":[{"filter":"datum.s=='E'&&datum.y<65"}],"mark":{"type":"line","clip":true,"strokeWidth":4,"interpolate":"catmull-rom"},"encoding":{"color":{"datum":0.6,"type":"quantitative","legend":null}}},
{"data":{"values":[{"x":1,"y":513,"s":"(c)"}]},"mark":{"type":"text","color":"#111","fontSize":15,"align":"left"},"encoding":{"order":null,"text":{"field":"s"}}}
]}
]},
{"spacing":12,"resolve":{"scale":{"color":"independent","size":"independent"},"legend":{"color":"independent"}},"vconcat":[
{"bounds":"flush","spacing":29,"resolve":{"scale":{"color":"independent","size":"independent"},"legend":{"color":"independent"}},"vconcat":[
{"width":386,"height":372,"encoding":{"x":{"field":"x","type":"quantitative","scale":{"domain":[0,500],"nice":false},"axis":{"labels":false,"title":null,"values":[0,100,200,300,400,500]}},"y":{"field":"y","type":"quantitative","scale":{"domain":[0,500],"nice":false},"axis":{"title":"Spatial domain (y)","values":[0,50,100,150,200,250,300,350,400,450,500],"titlePadding":8}}},
"layer":[
{"data":{"values":[{"x":0,"x2":500,"y":0,"y2":500,"v":0.5175}]},"mark":"rect","encoding":{"x2":{"field":"x2"},"y2":{"field":"y2"},"color":{"field":"v","type":"quantitative","scale":{"clamp":true,"domain":[0.5175,0.51965,0.52238,0.52483,0.52667,0.52706,0.52764,0.52947,0.53154,0.53388,0.53544,0.537],"range":["#00007f","#0000ff","#0090ff","#00ffff","#00f090","#60ff80","#70ff70","#ffff00","#ffa000","#ff5010","#c83000","#7f2000"]},"legend":{"type":"gradient","title":null,"legendX":406,"legendY":-2,"gradientLength":375,"gradientThickness":26,"values":[0.518,0.52,0.522,0.524,0.526,0.528,0.53,0.532,0.534,0.536],"format":".3f"}}}},
{"data":{"name":"ar"},"mark":{"type":"area","orient":"horizontal","interpolate":"monotone","clip":true},"encoding":{"x2":{"datum":0},"detail":{"field":"v"},"color":{"field":"v","type":"quantitative"}}},
{"data":{"values":[{"x":264,"y":481,"s":"v"}]},"mark":{"type":"text","color":"#fff","fontSize":15},"encoding":{"text":{"field":"s"}}}
]},
{"width":386,"height":374,"encoding":{"x":{"field":"x","type":"quantitative","scale":{"domain":[0,500],"nice":false},"axis":{"labels":false,"title":null,"values":[0,100,200,300,400,500]}},"y":{"field":"y","type":"quantitative","scale":{"domain":[0,500],"nice":false},"axis":{"title":"Spatial domain (y)","values":[0,50,100,150,200,250,300,350,400,450,500],"titlePadding":8}},"order":{"field":"t"}},
"resolve":{"scale":{"size":"independent"},"legend":{"color":"independent"}},
"layer":[
{"data":{"values":[{"x":0,"x2":500,"y":0,"y2":500,"v":0.065}]},"mark":"rect","encoding":{"order":null,"x2":{"field":"x2"},"y2":{"field":"y2"},"color":{"field":"v","type":"quantitative","scale":{"clamp":true,"domain":[0.045,0.159,0.304,0.435,0.532,0.553,0.584,0.682,0.792,0.916,1.0,1.082],"range":["#00007f","#0000ff","#0090ff","#00ffff","#00f090","#60ff80","#70ff70","#ffff00","#ffa000","#ff5010","#c83000","#7f2000"]},"legend":{"type":"gradient","title":null,"legendX":407,"legendY":-2,"gradientLength":378,"gradientThickness":27,"values":[0.1,0.2,0.3,0.4,0.5,0.6,0.7,0.8,0.9,1.0],"format":".1f"}}}},
{"data":{"name":"brc"},"mark":{"type":"trail","clip":true},"encoding":{"color":{"datum":0.1,"type":"quantitative","legend":null},"size":{"field":"w","type":"quantitative","scale":{"domain":[0,100],"range":[0,100]},"legend":null}}},
{"data":{"name":"brc"},"mark":{"type":"trail","clip":true},"encoding":{"color":{"datum":0.15,"type":"quantitative","legend":null},"size":{"field":"w","type":"quantitative","scale":{"domain":[0,100],"range":[0,40]},"legend":null}}},
{"data":{"name":"brm"},"mark":{"type":"trail","clip":true},"encoding":{"color":{"datum":0.1,"type":"quantitative","legend":null},"size":{"field":"w","type":"quantitative","scale":{"domain":[2,400],"range":[0,635],"clamp":true},"legend":null}}},
{"data":{"name":"brm"},"mark":{"type":"trail","clip":true},"encoding":{"color":{"datum":0.13,"type":"quantitative","legend":null},"size":{"field":"w","type":"quantitative","scale":{"domain":[5,400],"range":[0,600],"clamp":true},"legend":null}}},
{"data":{"name":"brm"},"mark":{"type":"trail","clip":true},"encoding":{"color":{"datum":0.16,"type":"quantitative","legend":null},"size":{"field":"w","type":"quantitative","scale":{"domain":[8.4,400],"range":[0,565],"clamp":true},"legend":null}}},
{"data":{"name":"brm"},"mark":{"type":"trail","clip":true},"encoding":{"color":{"datum":0.19,"type":"quantitative","legend":null},"size":{"field":"w","type":"quantitative","scale":{"domain":[9,400],"range":[0,540],"clamp":true},"legend":null}}},
{"data":{"name":"brm"},"mark":{"type":"trail","clip":true},"encoding":{"color":{"datum":0.22,"type":"quantitative","legend":null},"size":{"field":"w","type":"quantitative","scale":{"domain":[10,400],"range":[0,513],"clamp":true},"legend":null}}},
{"data":{"name":"brm"},"mark":{"type":"trail","clip":true},"encoding":{"color":{"datum":0.26,"type":"quantitative","legend":null},"size":{"field":"w","type":"quantitative","scale":{"domain":[10,400],"range":[0,478],"clamp":true},"legend":null}}},
{"data":{"name":"brm"},"mark":{"type":"trail","clip":true},"encoding":{"color":{"datum":0.3,"type":"quantitative","legend":null},"size":{"field":"w","type":"quantitative","scale":{"domain":[9.4,400],"range":[0,442],"clamp":true},"legend":null}}},
{"data":{"name":"brm"},"mark":{"type":"trail","clip":true},"encoding":{"color":{"datum":0.34,"type":"quantitative","legend":null},"size":{"field":"w","type":"quantitative","scale":{"domain":[7,400],"range":[0,400],"clamp":true},"legend":null}}},
{"data":{"name":"brm"},"mark":{"type":"trail","clip":true},"encoding":{"color":{"datum":0.37,"type":"quantitative","legend":null},"size":{"field":"w","type":"quantitative","scale":{"domain":[4,400],"range":[0,355],"clamp":true},"legend":null}}},
{"data":{"name":"brm"},"mark":{"type":"trail","clip":true},"encoding":{"color":{"datum":0.4,"type":"quantitative","legend":null},"size":{"field":"w","type":"quantitative","scale":{"domain":[2,400],"range":[0,330],"clamp":true},"legend":null}}},
{"data":{"name":"brm"},"mark":{"type":"trail","clip":true},"encoding":{"color":{"datum":0.43,"type":"quantitative","legend":null},"size":{"field":"w","type":"quantitative","scale":{"domain":[0,400],"range":[0,304]},"legend":null}}},
{"data":{"name":"brm"},"mark":{"type":"trail","clip":true},"encoding":{"color":{"datum":0.49,"type":"quantitative","legend":null},"size":{"field":"w","type":"quantitative","scale":{"domain":[1,400],"range":[0,285],"clamp":true},"legend":null}}},
{"data":{"name":"brm"},"mark":{"type":"trail","clip":true},"encoding":{"color":{"datum":0.55,"type":"quantitative","legend":null},"size":{"field":"w","type":"quantitative","scale":{"domain":[1.5,400],"range":[0,266],"clamp":true},"legend":null}}},
{"data":{"name":"brm"},"mark":{"type":"trail","clip":true},"encoding":{"color":{"datum":0.62,"type":"quantitative","legend":null},"size":{"field":"w","type":"quantitative","scale":{"domain":[2,400],"range":[0,238],"clamp":true},"legend":null}}},
{"data":{"name":"brm"},"mark":{"type":"trail","clip":true},"encoding":{"color":{"datum":0.68,"type":"quantitative","legend":null},"size":{"field":"w","type":"quantitative","scale":{"domain":[3,400],"range":[0,211],"clamp":true},"legend":null}}},
{"data":{"name":"brm"},"mark":{"type":"trail","clip":true},"encoding":{"color":{"datum":0.73,"type":"quantitative","legend":null},"size":{"field":"w","type":"quantitative","scale":{"domain":[3.5,400],"range":[0,190],"clamp":true},"legend":null}}},
{"data":{"name":"brm"},"mark":{"type":"trail","clip":true},"encoding":{"color":{"datum":0.79,"type":"quantitative","legend":null},"size":{"field":"w","type":"quantitative","scale":{"domain":[4,400],"range":[0,171],"clamp":true},"legend":null}}},
{"data":{"name":"brm"},"mark":{"type":"trail","clip":true},"encoding":{"color":{"datum":0.86,"type":"quantitative","legend":null},"size":{"field":"w","type":"quantitative","scale":{"domain":[0,400],"range":[2,138]},"legend":null}}},
{"data":{"name":"brm"},"mark":{"type":"trail","clip":true},"encoding":{"color":{"datum":0.93,"type":"quantitative","legend":null},"size":{"field":"w","type":"quantitative","scale":{"domain":[0,400],"range":[3,108]},"legend":null}}},
{"data":{"name":"brm"},"mark":{"type":"trail","clip":true},"encoding":{"color":{"datum":1.0,"type":"quantitative","legend":null},"size":{"field":"w","type":"quantitative","scale":{"domain":[0,400],"range":[1,88]},"legend":null}}},
{"data":{"name":"brm"},"mark":{"type":"trail","clip":true},"encoding":{"color":{"datum":1.07,"type":"quantitative","legend":null},"size":{"field":"w","type":"quantitative","scale":{"domain":[0,400],"range":[0,75]},"legend":null}}}
]}
]},
{"width":386,"height":379,"encoding":{"x":{"field":"x","type":"quantitative","scale":{"domain":[0,500],"nice":false},"axis":{"title":"Spatial domain (x)","titlePadding":-2,"labelPadding":12,"labelFlush":false,"values":[0,100,200,300,400,500],"labelOffset":{"condition":{"test":"datum.value==500","value":14},"value":0}}},"y":{"field":"y","type":"quantitative","scale":{"domain":[0,500],"nice":false},"axis":{"title":"Spatial domain (y)","values":[0,50,100,150,200,250,300,350,400,450,500],"titlePadding":8}},"order":{"field":"t"}},
"resolve":{"scale":{"size":"independent"},"legend":{"color":"independent"}},
"layer":[
{"data":{"values":[{"x":0,"x2":500,"y":0,"y2":500,"v":0.07}]},"mark":"rect","encoding":{"order":null,"x2":{"field":"x2"},"y2":{"field":"y2"},"color":{"field":"v","type":"quantitative","scale":{"clamp":true,"domain":[0,0.168,0.381,0.573,0.716,0.747,0.792,0.936,1.097,1.28,1.402,1.524],"range":["#00007f","#0000ff","#0090ff","#00ffff","#00f090","#60ff80","#70ff70","#ffff00","#ffa000","#ff5010","#c83000","#7f2000"]},"legend":{"type":"gradient","title":null,"legendX":407,"legendY":-1,"gradientLength":381,"gradientThickness":27,"values":[0,0.5,1,1.5],"labelExpr":"datum.value==0?'2.0':format(datum.value,'.1f')"}}}},
{"data":{"name":"blob"},"mark":{"type":"trail","clip":true},"encoding":{"color":{"datum":0.25,"type":"quantitative","legend":null},"size":{"field":"w","type":"quantitative","scale":{"domain":[0,100],"range":[0,260]},"legend":null}}},
{"data":{"name":"blob"},"transform":[{"filter":"datum.t>1"}],"mark":{"type":"trail","clip":true},"encoding":{"color":{"datum":0.55,"type":"quantitative","legend":null},"size":{"field":"w","type":"quantitative","scale":{"domain":[0,100],"range":[0,160]},"legend":null}}},
{"data":{"name":"blob"},"transform":[{"filter":"datum.t>1"}],"mark":{"type":"trail","clip":true},"encoding":{"color":{"datum":0.8,"type":"quantitative","legend":null},"size":{"field":"w","type":"quantitative","scale":{"domain":[0,100],"range":[0,76]},"legend":null}}},
{"data":{"name":"blob"},"transform":[{"filter":"datum.t>1"}],"mark":{"type":"trail","clip":true},"encoding":{"color":{"datum":0.95,"type":"quantitative","legend":null},"size":{"field":"w","type":"quantitative","scale":{"domain":[0,100],"range":[0,60]},"legend":null}}},
{"data":{"name":"blob"},"transform":[{"filter":"datum.t>1"}],"mark":{"type":"trail","clip":true},"encoding":{"color":{"datum":1.15,"type":"quantitative","legend":null},"size":{"field":"w","type":"quantitative","scale":{"domain":[0,100],"range":[0,42]},"legend":null}}},
{"data":{"name":"blob"},"transform":[{"filter":"datum.t>1"}],"mark":{"type":"trail","clip":true},"encoding":{"color":{"datum":1.35,"type":"quantitative","legend":null},"size":{"field":"w","type":"quantitative","scale":{"domain":[0,100],"range":[0,28]},"legend":null}}},
{"data":{"name":"blob"},"transform":[{"filter":"datum.t>1"}],"mark":{"type":"trail","clip":true},"encoding":{"color":{"datum":1.52,"type":"quantitative","legend":null},"size":{"field":"w","type":"quantitative","scale":{"domain":[0,100],"range":[0,14]},"legend":null}}},
{"data":{"name":"arms"},"mark":{"type":"line","clip":true,"strokeWidth":6,"interpolate":"catmull-rom"},"encoding":{"detail":{"field":"s"},"color":{"datum":0.2,"type":"quantitative","legend":null}}},
{"data":{"name":"arms"},"mark":{"type":"line","clip":true,"strokeWidth":3.5,"interpolate":"catmull-rom"},"encoding":{"detail":{"field":"s"},"color":{"datum":0.42,"type":"quantitative","legend":null}}},
{"data":{"name":"arms"},"mark":{"type":"line","clip":true,"strokeWidth":1.8,"interpolate":"catmull-rom"},"encoding":{"detail":{"field":"s"},"color":{"datum":0.6,"type":"quantitative","legend":null}}},
{"data":{"name":"arms"},"transform":[{"filter":"datum.s=='E'"}],"mark":{"type":"line","clip":true,"strokeWidth":2.2,"interpolate":"catmull-rom"},"encoding":{"color":{"datum":0.8,"type":"quantitative","legend":null}}},
{"data":{"name":"arms"},"transform":[{"filter":"datum.s=='E'&&datum.y<200"}],"mark":{"type":"line","clip":true,"strokeWidth":2,"interpolate":"catmull-rom"},"encoding":{"color":{"datum":1.0,"type":"quantitative","legend":null}}},
{"data":{"name":"arms"},"transform":[{"filter":"datum.s=='E'&&datum.y<80"}],"mark":{"type":"line","clip":true,"strokeWidth":1.2,"interpolate":"catmull-rom"},"encoding":{"color":{"datum":1.3,"type":"quantitative","legend":null}}},
{"data":{"name":"crs"},"mark":{"type":"line","clip":true,"strokeWidth":9,"interpolate":"catmull-rom"},"encoding":{"detail":{"field":"s"},"color":{"datum":0.25,"type":"quantitative","legend":null}}},
{"data":{"name":"crs"},"mark":{"type":"line","clip":true,"strokeWidth":6,"interpolate":"catmull-rom"},"encoding":{"detail":{"field":"s"},"color":{"datum":0.55,"type":"quantitative","legend":null}}},
{"data":{"name":"crs"},"mark":{"type":"line","clip":true,"strokeWidth":3.5,"interpolate":"catmull-rom"},"encoding":{"detail":{"field":"s"},"color":{"datum":0.95,"type":"quantitative","legend":null}}},
{"data":{"name":"crs"},"mark":{"type":"line","clip":true,"strokeWidth":1.5,"interpolate":"catmull-rom"},"encoding":{"detail":{"field":"s"},"color":{"datum":1.32,"type":"quantitative","legend":null}}}
]}
]}
]}
